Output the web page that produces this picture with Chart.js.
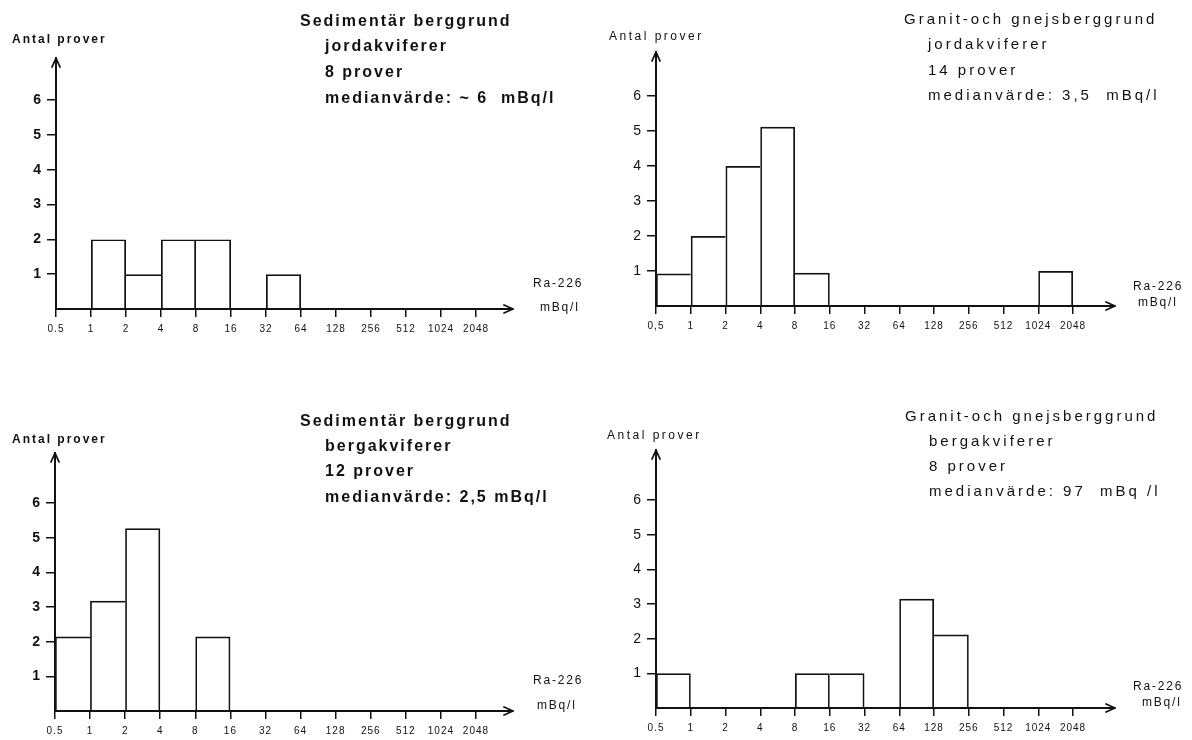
<!DOCTYPE html>
<html lang="sv">
<head>
<meta charset="utf-8">
<title>Ra-226 i grundvatten</title>
<script src="https://cdn.jsdelivr.net/npm/chart.js@4.4.1/dist/chart.umd.min.js"></script>
<style>
  html, body { margin: 0; padding: 0; background: #fff; }
  #sheet { position: relative; width: 1192px; height: 740px; overflow: hidden; background: #fff; }
  #sheet canvas { position: absolute; }
</style>
</head>
<body>
<div id="sheet">
  <canvas id="sedJord" width="596" height="370" style="left:0;top:0"></canvas>
  <canvas id="granJord" width="596" height="370" style="left:596px;top:0"></canvas>
  <canvas id="sedBerg" width="596" height="370" style="left:0;top:370px"></canvas>
  <canvas id="granBerg" width="596" height="370" style="left:596px;top:370px"></canvas>
</div>
<script>
// Klassgränser (mBq/l), dubblas för varje steg
const tickLabels = ['0.5', '1', '2', '4', '8', '16', '32', '64', '128', '256', '512', '1024', '2048'];
const tickLabelsComma = ['0,5', '1', '2', '4', '8', '16', '32', '64', '128', '256', '512', '1024', '2048'];
const yTicks = [1, 2, 3, 4, 5, 6];

// Antal prover per klass (klass i = tickLabels[i] .. tickLabels[i+1]), null = inga prover
const sedJordCounts = [null, 2, 1, 2, 2, null, 1, null, null, null, null, null];
const granJordCounts = [0.93, 2, 4, 5.12, 0.95, null, null, null, null, null, null, 1];
const sedBergCounts = [2.15, 3.18, 5.27, null, 2.15, null, null, null, null, null, null, null];
const granBergCounts = [1, null, null, null, 1, 1, null, 3.15, 2.12, null, null, null];

const sedJordTitle = ['Sedimentär berggrund', 'jordakviferer', '8 prover', 'medianvärde: ~ 6  mBq/l'];
const granJordTitle = ['Granit-och gnejsberggrund', 'jordakviferer', '14 prover', 'medianvärde: 3,5  mBq/l'];
const sedBergTitle = ['Sedimentär berggrund', 'bergakviferer', '12 prover', 'medianvärde: 2,5 mBq/l'];
const granBergTitle = ['Granit-och gnejsberggrund', 'bergakviferer', '8 prover', 'medianvärde: 97  mBq /l'];

const yAxisTitle = 'Antal prover';
const xAxisTitle = ['Ra-226', 'mBq/l'];

const INK = '#111';
const FONT = "'Liberation Sans', Arial, sans-serif";
const Y_AXIS_W = 40;
const X_AXIS_H = 26;

// Placering av varje diagram på sidan (px)
const panels = [
  {
    id: 'sedJord', counts: sedJordCounts, labels: tickLabels, title: sedJordTitle,
    origin: [0, 0], area: { left: 56, top: 58, right: 513, bottom: 309 }, xUnit: 35, yUnit: 34.8,
    titleLines: [[300, 22], [325, 47], [325, 73], [325, 99]], yTitle: [12, 40], xTitle: [[533, 284], [540, 308]],
    heavy: true
  },
  {
    id: 'granJord', counts: granJordCounts, labels: tickLabelsComma, title: granJordTitle,
    origin: [596, 0], area: { left: 656, top: 52, right: 1115, bottom: 306 }, xUnit: 34.75, yUnit: 35,
    titleLines: [[904, 20], [928, 45], [928, 71], [928, 96]], yTitle: [609, 37], xTitle: [[1133, 287], [1138, 303]],
    heavy: false
  },
  {
    id: 'sedBerg', counts: sedBergCounts, labels: tickLabels, title: sedBergTitle,
    origin: [0, 370], area: { left: 55, top: 453, right: 513, bottom: 711 }, xUnit: 35.08, yUnit: 34.67,
    titleLines: [[300, 422], [325, 447], [325, 472], [325, 498]], yTitle: [12, 440], xTitle: [[533, 681], [537, 706]],
    heavy: true
  },
  {
    id: 'granBerg', counts: granBergCounts, labels: tickLabels, title: granBergTitle,
    origin: [596, 370], area: { left: 656, top: 450, right: 1115, bottom: 708 }, xUnit: 34.75, yUnit: 34.67,
    titleLines: [[905, 417], [929, 442], [929, 467], [929, 492]], yTitle: [607, 436], xTitle: [[1133, 687], [1142, 703]],
    heavy: false
  }
];

// Pilspetsar på axlarnas ändar
const axisArrows = {
  id: 'axisArrows',
  afterDraw(chart) {
    const { ctx, chartArea: a } = chart;
    ctx.save();
    ctx.strokeStyle = INK;
    ctx.lineWidth = 1.8;
    ctx.lineCap = 'round';
    ctx.lineJoin = 'round';
    ctx.beginPath();
    ctx.moveTo(a.left - 4, a.top + 9);
    ctx.lineTo(a.left, a.top);
    ctx.lineTo(a.left + 4, a.top + 9);
    ctx.moveTo(a.right - 9, a.bottom - 4);
    ctx.lineTo(a.right, a.bottom);
    ctx.lineTo(a.right - 9, a.bottom + 4);
    ctx.stroke();
    ctx.restore();
  }
};

// Rubrik och axeltexter
const panelText = {
  id: 'panelText',
  beforeDraw(chart) {
    chart.ctx.letterSpacing = '1px';
  },
  afterDraw(chart, args, opts) {
    const p = opts.panel;
    const ctx = chart.ctx;
    const [ox, oy] = p.origin;
    ctx.save();
    ctx.fillStyle = INK;
    ctx.textBaseline = 'middle';
    ctx.textAlign = 'left';

    ctx.font = (p.heavy ? 'bold 16px ' : '15px ') + FONT;
    ctx.letterSpacing = p.heavy ? '2px' : '3px';
    p.title.forEach((line, i) => {
      const [x, y] = p.titleLines[i];
      ctx.fillText(line, x - ox, y - oy);
    });

    ctx.font = (p.heavy ? 'bold 12px ' : '12px ') + FONT;
    ctx.letterSpacing = p.heavy ? '2px' : '2.5px';
    ctx.fillText(yAxisTitle, p.yTitle[0] - ox, p.yTitle[1] - oy);

    ctx.font = '12px ' + FONT;
    ctx.letterSpacing = '1.8px';
    xAxisTitle.forEach((line, i) => {
      const [x, y] = p.xTitle[i];
      ctx.fillText(line, x - ox, y - oy);
    });
    ctx.restore();
  }
};

// Kanttjocklek per stapel så att gemensamma kanter bara ritas en gång
function edgeWidths(counts, i, w) {
  const v = counts[i] ?? 0;
  const prev = counts[i - 1] ?? 0;
  const next = counts[i + 1] ?? 0;
  return { top: w, bottom: 0, left: prev >= v ? 0 : w, right: next > v ? 0 : w };
}

document.addEventListener('DOMContentLoaded', () => {
  panels.forEach(p => {
    const ctx = document.getElementById(p.id)?.getContext('2d');
    if (!ctx) return;
    const a = p.area;
    const [ox, oy] = p.origin;
    const xMax = (a.right - a.left) / p.xUnit;
    const yMax = (a.bottom - a.top) / p.yUnit;

    new Chart(ctx, {
      type: 'bar',
      data: {
        datasets: [{
          data: p.counts.map((v, i) => ({ x: i + 0.5, y: v })).filter(d => d.y !== null),
          backgroundColor: 'rgba(0,0,0,0)',
          borderColor: INK,
          borderSkipped: false,
          borderWidth: c => (c.raw ? edgeWidths(p.counts, c.raw.x - 0.5, 1.7) : 1.7),
          inflateAmount: 0,
          barPercentage: 1,
          categoryPercentage: 1
        }]
      },
      options: {
        responsive: false,
        animation: false,
        events: [],
        layout: {
          padding: {
            left: a.left - ox - Y_AXIS_W,
            top: a.top - oy,
            right: ox + 596 - a.right,
            bottom: oy + 370 - a.bottom - X_AXIS_H
          }
        },
        plugins: {
          legend: { display: false },
          tooltip: { enabled: false },
          panelText: { panel: p }
        },
        scales: {
          x: {
            type: 'linear',
            offset: false,
            min: 0,
            max: xMax,
            afterBuildTicks: s => { s.ticks = p.labels.map((_, i) => ({ value: i })); },
            afterFit: s => { s.height = X_AXIS_H; },
            grid: { offset: false, drawOnChartArea: false, drawTicks: true, tickLength: 8, color: INK, lineWidth: 1.5 },
            border: { display: true, color: INK, width: 2 },
            ticks: {
              autoSkip: false,
              maxRotation: 0,
              padding: 6,
              color: INK,
              font: { size: 10, family: FONT },
              callback: (v, i) => p.labels[i]
            }
          },
          y: {
            type: 'linear',
            min: 0,
            max: yMax,
            afterBuildTicks: s => { s.ticks = yTicks.map(v => ({ value: v })); },
            afterFit: s => { s.width = Y_AXIS_W; },
            grid: { drawOnChartArea: false, drawTicks: true, tickLength: 9, color: INK, lineWidth: 1.5 },
            border: { display: true, color: INK, width: 2 },
            ticks: {
              padding: 5,
              color: INK,
              font: { size: 14, family: FONT, weight: p.heavy ? 'bold' : 'normal' },
              callback: v => String(v)
            }
          }
        }
      },
      plugins: [axisArrows, panelText]
    });
  });
});
</script>
</body>
</html>
